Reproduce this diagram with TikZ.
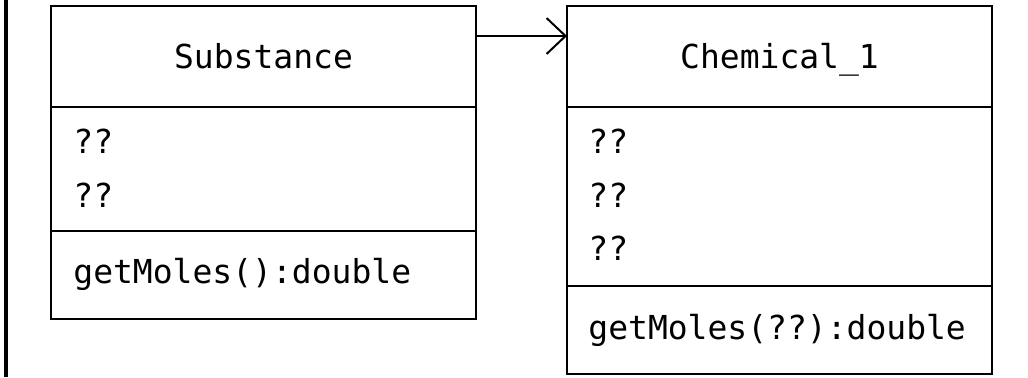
\documentclass[tikz,border=0pt]{standalone}
\usepackage{fontspec}
\newfontfamily\umlfont{DejaVu Sans Mono}
\usetikzlibrary{positioning,arrows.meta}

\tikzset{
  compart/.style={draw=black, line width=1pt, minimum width=212.5pt, inner sep=0pt, outer sep=0pt},
  classname/.style={compart, minimum height=50.5pt, font=\umlfont\fontsize{16.5}{20}\selectfont, text height=12pt, text depth=0pt},
  member/.style={font=\umlfont\fontsize{16.5}{20}\selectfont, inner sep=0pt, anchor=base west},
}

\begin{document}
\begin{tikzpicture}[x=0.5pt,y=-0.5pt]
\useasboundingbox (0,0) rectangle (1028,377);
\draw[black,line width=2pt] (6,0) -- (6,377);

% Substance
\node[classname, anchor=north west] (subname) at (51,6) {Substance};
\node[compart, minimum height=62pt, below=0pt of subname] (subattr) {};
\node[compart, minimum height=44pt, below=0pt of subattr] (subops) {};
\node[member] (suba1) at (73,153) {??};
\node[member] (suba2) at (73,207) {??};
\node[member] (subo1) at (73,283) {getMoles():double};

% Chemical_1
\node[classname, anchor=north west] (chemname) at (567,6) {Chemical\_1};
\node[compart, minimum height=89.5pt, below=0pt of chemname] (chemattr) {};
\node[compart, minimum height=44pt, below=0pt of chemattr] (chemops) {};
\node[member] (chema1) at (588,153) {??};
\node[member] (chema2) at (588,207) {??};
\node[member] (chema3) at (588,260) {??};
\node[member] (chemo1) at (588,339) {getMoles(??):double};

\draw[-{Straight Barb[length=9.5pt,width=18pt]}, line width=1pt] ([yshift=-15pt]subname.north east) -- ([yshift=-15pt]chemname.north west);

\end{tikzpicture}
\end{document}
